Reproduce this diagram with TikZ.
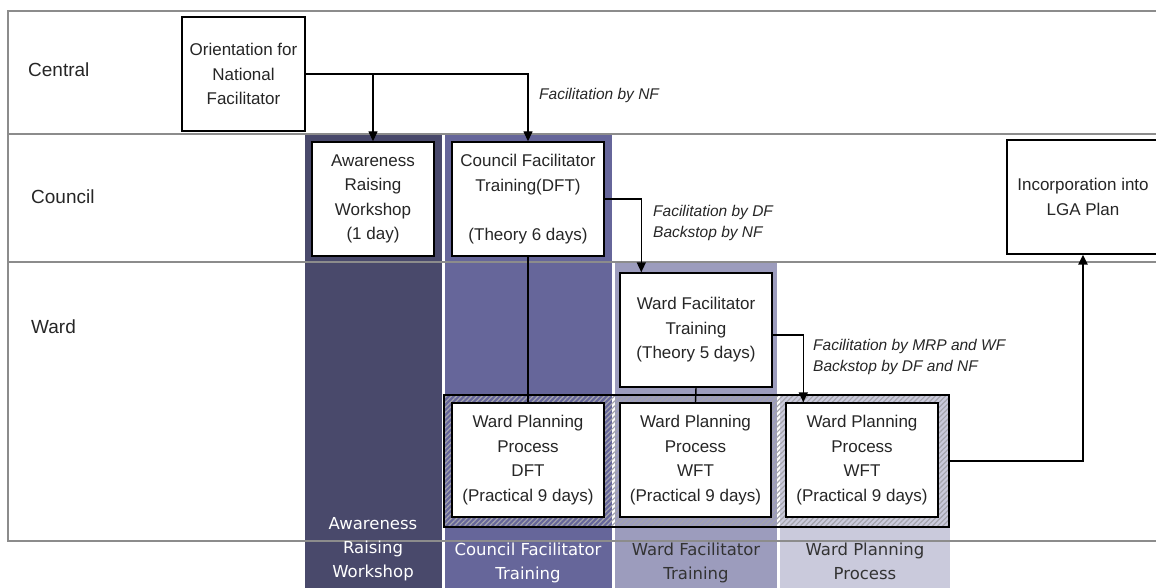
\documentclass[tikz,border=0pt]{standalone}
\usepackage{fontspec}
\setmainfont{Liberation Sans}
\newfontfamily\gothicfont{DejaVu Sans}
\usetikzlibrary{arrows.meta,calc,patterns.meta}

\definecolor{colA}{HTML}{49496B}
\definecolor{colB}{HTML}{66669A}
\definecolor{colC}{HTML}{9C9CBD}
\definecolor{colD}{HTML}{CACADC}
\definecolor{rulegray}{HTML}{8C8C8C}
\definecolor{hatchgray}{HTML}{A4A4AC}

\begin{document}
\begin{tikzpicture}[x=1pt,y=-1pt,
  stage/.style={draw=black, line width=1.4pt, fill=white, align=center, inner sep=0pt,
    font=\fontsize{17}{24.5}\selectfont, text=black!85},
  rowlabel/.style={anchor=west, inner sep=0pt, font=\fontsize{19}{22}\selectfont, text=black!85},
  note/.style={anchor=west, align=left, inner sep=0pt,
    font=\fontsize{15.5}{21}\selectfont\itshape, text=black!85},
  link/.style={line width=1.4pt, -{Triangle[length=10pt,width=9pt]}},
  feed/.style={line width=1.4pt},
  rowrule/.style={draw=rulegray, line width=2.2pt},
  collabel/.style={anchor=north, align=center, inner sep=0pt,
    font=\gothicfont\fontsize{16.5}{24}\selectfont},
]
\useasboundingbox (0,0) rectangle (1156,588);

% stage columns
\fill[colA] (305,135) rectangle (442,588);
\fill[colB] (445,135) rectangle (612,588);
\fill[colC] (615,263) rectangle (777,588);
\fill[colD] (780,395) rectangle (950,588);

% level rows
\draw[rowrule] (1160,11) -- (8,11) -- (8,541) -- (1160,541);
\draw[rowrule] (8,134) -- (1160,134);
\draw[rowrule] (8,262) -- (1160,262);

\node[rowlabel] (lcentral) at (28,70) {Central};
\node[rowlabel] (lcouncil) at (31,197) {Council};
\node[rowlabel] (lward) at (31,327) {Ward};

% hatched frame around the ward planning process
\node[draw=black, line width=2.6pt, inner sep=0pt, minimum width=505, minimum height=132,
  pattern={Lines[angle=45,distance=3.6pt,line width=1.2pt]}, pattern color=hatchgray]
  (wpp) at (696.5,461) {};

% activity boxes
\node[stage, minimum width=123, minimum height=114] (orient) at (243.5,74)
  {Orientation for\\National\\Facilitator};
\node[stage, minimum width=122, minimum height=114] (awr) at (373,199)
  {Awareness\\Raising\\Workshop\\(1 day)};
\node[stage, minimum width=152, minimum height=114] (cft) at (528,199)
  {Council Facilitator\\Training(DFT)\\\mbox{}\\(Theory 6 days)};
\node[stage, minimum width=152, minimum height=114] (inc) at (1083,197)
  {Incorporation into\\LGA Plan};
\node[stage, minimum width=152, minimum height=114] (wft) at (696,330)
  {Ward Facilitator\\Training\\(Theory 5 days)};
\node[stage, minimum width=152, minimum height=114] (wpp1) at (528,460)
  {Ward Planning\\Process\\DFT\\(Practical 9 days)};
\node[stage, minimum width=151, minimum height=114] (wpp2) at (695.5,460)
  {Ward Planning\\Process\\WFT\\(Practical 9 days)};
\node[stage, minimum width=152, minimum height=114] (wpp3) at (862,460)
  {Ward Planning\\Process\\WFT\\(Practical 9 days)};

% facilitation notes
\node[note] (nnf) at (539,95) {Facilitation by NF};
\node[note] (ndf) at (653,222.5) {Facilitation by DF\\Backstop by NF};
\node[note] (nmrp) at (813,357) {Facilitation by MRP and WF\\Backstop by DF and NF};

% connectors
\draw[link] (orient.east) -| (cft.north);
\draw[link] (orient.east -| awr.north) -- (awr.north);
\draw[link] (cft.east) -| ($(wft.north west)+(22,0)$);
\draw[link] ($(wft.east)+(0,5)$) -| ($(wpp3.north west)+(18,0)$);
\draw[feed] (cft.south) -- (wpp1.north);
\draw[feed] (wft.south) -- (wpp2.north);
\draw[link, line width=2.6pt] (wpp.east) -| (inc.south);

% stage names under the table
\node[collabel, text=white] (sa) at (373,517) {Awareness\\Raising\\Workshop};
\node[collabel, text=white] (sb) at (528,543) {Council Facilitator\\Training};
\node[collabel, text=black!80] (sc) at (696,543) {Ward Facilitator\\Training};
\node[collabel, text=black!80] (sd) at (865,543) {Ward Planning\\Process};
\end{tikzpicture}
\end{document}
